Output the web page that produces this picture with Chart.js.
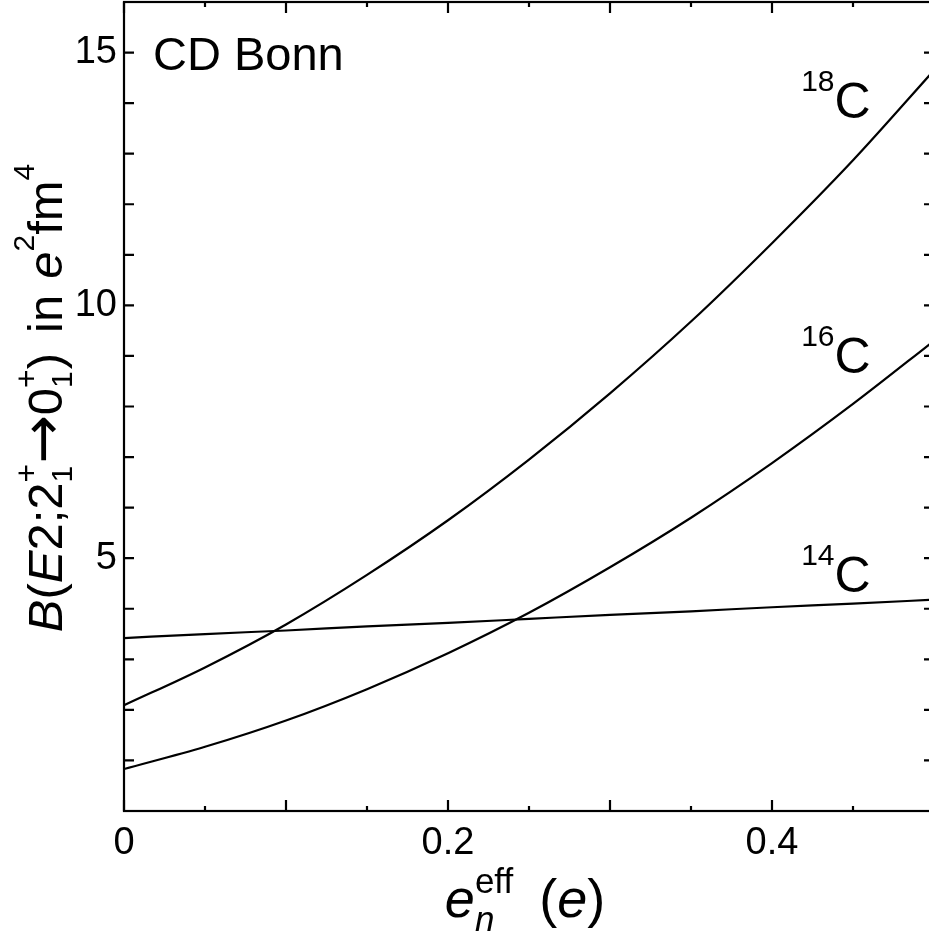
<!DOCTYPE html>
<html><head><meta charset="utf-8">
<script src="https://cdn.jsdelivr.net/npm/chart.js@4.4.0/dist/chart.umd.min.js"></script>
<style>html,body{margin:0;padding:0;background:#fff;overflow:hidden;width:929px;height:932px}canvas{display:block}</style>
</head><body>
<canvas id="c" width="940" height="932"></canvas>
<script>
// ---- data ----
const xValues = [0, 0.05, 0.10, 0.15, 0.20, 0.25, 0.30, 0.35, 0.40, 0.45, 0.50];
const c14 = [3.42, 3.50, 3.57, 3.65, 3.72, 3.80, 3.88, 3.95, 4.03, 4.10, 4.18];
const c16 = [0.83, 1.27, 1.79, 2.41, 3.12, 3.92, 4.82, 5.80, 6.88, 8.05, 9.30];
const c18 = [2.09, 2.84, 3.69, 4.67, 5.75, 6.95, 8.26, 9.68, 11.23, 12.87, 14.65];
const seriesNames = ['14C', '16C', '18C'];
const isotopeMass = ['14', '16', '18'];
const modelName = 'CD Bonn';
const xTickLabels = ['0', '0.2', '0.4'];
const yTickLabels = ['5', '10', '15'];

const FONT = "'Liberation Sans', Arial, Helvetica, 'DejaVu Sans', sans-serif";
Chart.defaults.font.family = FONT;
Chart.defaults.color = '#000';

function fontStr(p, base) { return (p.italic ? 'italic ' : '') + (p.size || base) + 'px ' + (p.family || FONT); }
function runWidth(ctx, runs, base) {
  let w = 0;
  for (const p of runs) {
    if (p.gap) { w += p.gap; continue; }
    if (p.stack) { let m = 0; for (const s of p.stack) { ctx.font = fontStr(s, base); m = Math.max(m, ctx.measureText(s.t).width); } w += m; continue; }
    ctx.font = fontStr(p, base); w += ctx.measureText(p.t).width;
  }
  return w;
}
function drawRuns(ctx, runs, x, y, base) {
  let cx = x;
  ctx.textBaseline = 'alphabetic'; ctx.textAlign = 'left';
  for (const p of runs) {
    if (p.gap) { cx += p.gap; continue; }
    if (p.stack) {
      let m = 0;
      for (const s of p.stack) { ctx.font = fontStr(s, base); ctx.fillText(s.t, cx, y + (s.dy || 0)); m = Math.max(m, ctx.measureText(s.t).width); }
      cx += m; continue;
    }
    ctx.font = fontStr(p, base); ctx.fillText(p.t, cx, y + (p.dy || 0));
    cx += ctx.measureText(p.t).width;
  }
}

// y title: B(E2;2+1 -> 0+1) in e^2 fm^4
const yTitle = [
  {t: 'B', italic: true}, {t: '('}, {t: 'E', italic: true}, {t: '2;2'},
  {stack: [{t: '+', size: 32, dy: -25}, {t: '1', size: 30, dy: 10}]},
  {t: '\u2192', size: 58, family: "'DejaVu Sans', sans-serif"}, {t: '0'},
  {stack: [{t: '+', size: 32, dy: -25}, {t: '1', size: 30, dy: 10}]},
  {t: ')'}, {gap: 20}, {t: 'in'}, {gap: 16}, {t: 'e', italic: true},
  {t: '2', size: 30, dy: -28}, {t: 'fm'}, {t: '4', size: 30, dy: -28}
];
const xTitle = [
  {t: 'e', italic: true},
  {stack: [{t: 'eff', size: 35, dy: -24}, {t: 'n', size: 35, italic: true, dy: 14}]},
  {gap: 26}, {t: '('}, {t: 'e', italic: true}, {t: ')'}
];

// annotation anchors in data coordinates
const isoPos = [[0.418, 4.335], [0.418, 8.665], [0.418, 13.70]];
const modelPos = [0.0179, 14.65];

const decor = {
  id: 'decor',
  afterDraw(chart) {
    const {ctx, chartArea: a, scales: {x, y}} = chart;
    ctx.save();
    ctx.strokeStyle = '#000'; ctx.lineWidth = 2.2; ctx.lineCap = 'butt';
    ctx.strokeRect(a.left, a.top, a.right - a.left, a.bottom - a.top);
    ctx.beginPath();
    x.ticks.forEach(t => {
      const px = x.getPixelForValue(t.value);
      const major = Math.abs(t.value * 10 - Math.round(t.value * 10)) < 1e-6;
      const L = major ? 11 : 5;
      ctx.moveTo(px, a.bottom); ctx.lineTo(px, a.bottom - L);
      ctx.moveTo(px, a.top); ctx.lineTo(px, a.top + L);
    });
    y.ticks.forEach(t => {
      const py = y.getPixelForValue(t.value);
      ctx.moveTo(a.left, py); ctx.lineTo(a.left + 10, py);
      ctx.moveTo(a.right, py); ctx.lineTo(a.right - 10, py);
    });
    ctx.stroke();

    ctx.fillStyle = '#000';
    // model name
    ctx.font = '47px ' + FONT; ctx.textBaseline = 'alphabetic'; ctx.textAlign = 'left';
    ctx.fillText(modelName, x.getPixelForValue(modelPos[0]), y.getPixelForValue(modelPos[1]));
    // isotope labels
    isotopeMass.forEach((m, i) => {
      const px = x.getPixelForValue(isoPos[i][0]);
      const py = y.getPixelForValue(isoPos[i][1]);
      drawRuns(ctx, [{t: m, size: 30, dy: -27}, {t: 'C'}], px, py, 50);
    });
    // x title
    const xw = runWidth(ctx, xTitle, 54);
    drawRuns(ctx, xTitle, (a.left + a.right) / 2 - xw / 2 - 4, 917, 54);
    // y title
    const yw = runWidth(ctx, yTitle, 49);
    ctx.save();
    ctx.translate(62, 398);
    ctx.rotate(-Math.PI / 2);
    drawRuns(ctx, yTitle, -yw / 2, 0, 49);
    ctx.restore();
    ctx.restore();
  }
};

const mk = (name, vals) => ({
  label: name,
  data: xValues.map((xv, i) => ({x: xv, y: vals[i]})),
  borderColor: '#000', borderWidth: 2.2, pointRadius: 0, fill: false,
  cubicInterpolationMode: 'monotone'
});

new Chart(document.getElementById('c'), {
  type: 'line',
  data: {datasets: [mk(seriesNames[0], c14), mk(seriesNames[1], c16), mk(seriesNames[2], c18)]},
  options: {
    responsive: false, animation: false, devicePixelRatio: 1,
    layout: {padding: {top: 2, right: 6, left: 0, bottom: 0}},
    plugins: {legend: {display: false}, tooltip: {enabled: false}, title: {display: false}},
    scales: {
      x: {
        type: 'linear', min: 0, max: 0.5,
        grid: {display: false, drawTicks: false}, border: {display: false},
        ticks: {
          stepSize: 0.05, autoSkip: false, maxRotation: 0, padding: 10,
          font: {size: 38}, color: '#000',
          callback: v => { const s = String(+v.toFixed(1)); return (Math.abs(v * 5 - Math.round(v * 5)) < 1e-6 && xTickLabels.includes(s)) ? s : ''; }
        },
        afterFit: s => { s.height = 121; s.paddingLeft = 0; s.paddingRight = 0; }
      },
      y: {
        min: 0, max: 16,
        grid: {display: false, drawTicks: false}, border: {display: false},
        ticks: {
          stepSize: 1, autoSkip: false, padding: 7,
          font: {size: 38}, color: '#000',
          callback: v => yTickLabels.includes(String(v)) ? String(v) : ''
        },
        afterFit: s => { s.width = 124; s.paddingTop = 0; s.paddingBottom = 0; }
      }
    }
  },
  plugins: [decor]
});
</script>
</body></html>
